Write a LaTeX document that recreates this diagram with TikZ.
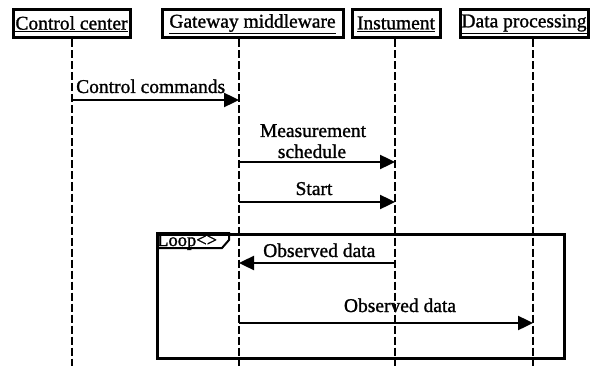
\documentclass[tikz,border=0pt]{standalone}
\usepackage{fontspec}
\setmainfont{Liberation Serif}
\newfontfamily\heavyfont{Liberation Serif}[FakeBold=1.2]
\usetikzlibrary{arrows.meta}
\begin{document}
\begin{tikzpicture}[x=1pt,y=-1pt,
  every node/.style={font=\heavyfont\fontsize{19.5}{22}\selectfont, inner sep=0pt},
  actor/.style={draw, line width=3pt, minimum height=28pt, anchor=center},
  lifeline/.style={line width=2.4pt, dash pattern=on 8pt off 3pt},
  msg/.style={line width=2.4pt, -{Triangle[length=15pt,width=14pt]}},
  frame/.style={draw, line width=2.6pt},
  lbl/.style={anchor=base}
]
\useasboundingbox (0,0) rectangle (591,366);
% actors
\node[actor, minimum width=117pt] (cc) at (71.5,24) {\underline{Control center}};
\node[actor, minimum width=181pt] (gw) at (252.5,24) {\underline{Gateway middleware}};
\node[actor, minimum width=88pt] (ins) at (396,24) {\underline{Instument}};
\node[actor, minimum width=128pt] (dp) at (524,24) {\underline{Data processing}};
% lifeline ends
\coordinate (ccE) at (72,366);
\coordinate (gwE) at (239,366);
\coordinate (insE) at (395,366);
\coordinate (dpE) at (533,366);
\draw[lifeline] (cc.south -| ccE) -- (ccE);
\draw[lifeline] (gw.south -| gwE) -- (gwE);
\draw[lifeline] (ins.south -| insE) -- (insE);
\draw[lifeline] (dp.south -| dpE) -- (dpE);
% loop frame
\node[frame, minimum width=407pt, minimum height=124pt, anchor=north west] (loop) at (156,233) {};
\draw[line width=2pt] (loop.north west) -- (229,233) -- (229,240) -- (222,248) -- (156,248);
\node[anchor=base west, font=\heavyfont\fontsize{18.5}{20}\selectfont] (looplbl) at (157,246) {Loop<>};
% message coordinates
\coordinate (m1s) at (72,100);
\coordinate (m1e) at (239,100);
\coordinate (m2s) at (239,162);
\coordinate (m2e) at (395,162);
\coordinate (m3s) at (239,202);
\coordinate (m3e) at (395,202);
\coordinate (m4s) at (395,263);
\coordinate (m4e) at (239,263);
\coordinate (m5s) at (239,323);
\coordinate (m5e) at (533,323);
\draw[msg] (m1s) -- (m1e);
\draw[msg] (m2s) -- (m2e);
\draw[msg] (m3s) -- (m3e);
\draw[msg] (m4s) -- (m4e);
\draw[msg] (m5s) -- (m5e);
% labels
\node[anchor=base west] (l1) at (76,93) {Control commands};
\node[lbl] (l2a) at (313,137) {Measurement};
\node[lbl] (l2b) at (312,158) {schedule};
\node[lbl] (l3) at (314,195) {Start};
\node[anchor=base west] (l4) at (263,257) {Observed data};
\node[lbl] (l5) at (400,312) {Observed data};
\end{tikzpicture}
\end{document}
